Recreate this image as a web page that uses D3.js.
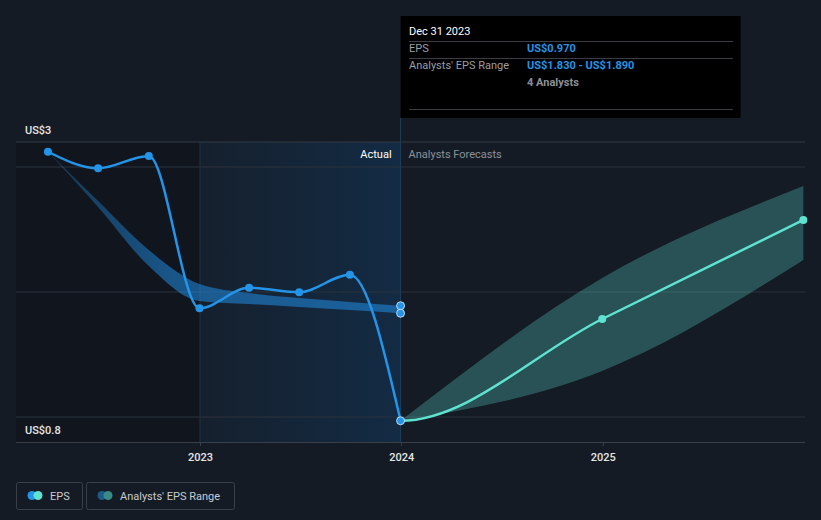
<!DOCTYPE html>
<html>
<head>
<meta charset="utf-8">
<script src="https://cdn.jsdelivr.net/npm/d3@7"></script>
<style>
  html, body { margin: 0; padding: 0; background: #151b24; }
  svg { display: block; font-family: Roboto, "Noto Sans", sans-serif; }
</style>
</head>
<body>
<svg id="chart" width="821" height="520"></svg>
<script>
// ---- data ----
const actualDates = ["2022-03-31","2022-06-30","2022-09-30","2022-12-31","2023-03-31","2023-06-30","2023-09-30","2023-12-31"];
const actualEPS   = [3.122, 2.990, 3.088, 1.870, 2.034, 1.998, 2.138, 0.970];

const pastRangeDates = ["2022-03-31","2022-06-30","2022-09-30","2022-12-31","2023-03-31","2023-06-30","2023-09-30","2023-12-31"];
const pastRangeHigh  = [3.122, 2.728, 2.336, 2.064, 1.992, 1.952, 1.920, 1.890];
const pastRangeLow   = [3.122, 2.680, 2.208, 1.928, 1.904, 1.880, 1.856, 1.830];

const forecastDates = ["2023-09-30","2023-12-31","2024-12-31","2025-12-31"];
const forecastEPS   = [2.138, 0.970, 1.784, 2.576];
const forecastHigh  = [null, 0.970, 2.112, 2.848];
const forecastLow   = [null, 0.970, 1.368, 2.256];

const xTickDates  = ["2023-01-01","2024-01-01","2025-01-01"];
const xTickLabels = ["2023","2024","2025"];
const yGridValues = [1, 2, 3];
const yLabelValues = [3.2, 0.8];
const yLabelTexts  = ["US$3", "US$0.8"];

const tooltipTitle = "Dec 31 2023";
const tooltipRows = [
  ["EPS", "US$0.970"],
  ["Analysts' EPS Range", "US$1.830 - US$1.890"]
];
const tooltipNote = "4 Analysts";
const legendItems = ["EPS", "Analysts' EPS Range"];

// ---- setup ----
const parse = d3.timeParse("%Y-%m-%d");
const svg = d3.select("#chart");
const L = 16, R = 805, T = 142, B = 442;
const x = d3.scaleTime().domain([new Date(2022,1,1), new Date(2026,0,3)]).range([L, R]);
const y = d3.scaleLinear().domain([0.8, 3.2]).range([B, T]);
const splitDate = parse("2023-12-31");
const shadeStart = parse("2023-01-01");

const defs = svg.append("defs");
const g1 = defs.append("linearGradient").attr("id","actualShade").attr("x1","0").attr("x2","1").attr("y1","0").attr("y2","0");
g1.append("stop").attr("offset","0").attr("stop-color","#15202d");
g1.append("stop").attr("offset","1").attr("stop-color","#132b44");
const g2 = defs.append("linearGradient").attr("id","pastBand").attr("x1","0").attr("x2","1").attr("y1","0").attr("y2","0");
g2.append("stop").attr("offset","0").attr("stop-color","#2196f3").attr("stop-opacity",0.25);
g2.append("stop").attr("offset","0.35").attr("stop-color","#2196f3").attr("stop-opacity",0.5);
g2.append("stop").attr("offset","1").attr("stop-color","#2196f3").attr("stop-opacity",0.5);
defs.append("clipPath").attr("id","futureClip").append("rect")
  .attr("x", x(splitDate)).attr("y", 0).attr("width", 821 - x(splitDate)).attr("height", 520);
defs.append("clipPath").attr("id","plotClip").append("rect")
  .attr("x", L).attr("y", 0).attr("width", R - L).attr("height", 520);

// backgrounds
svg.append("rect").attr("x", L).attr("y", T).attr("width", x(shadeStart) - L).attr("height", B - T).attr("fill", "#11161e");
svg.append("rect").attr("x", x(shadeStart)).attr("y", T).attr("width", x(splitDate) - x(shadeStart)).attr("height", B - T).attr("fill", "url(#actualShade)");

// gridlines
svg.append("g").selectAll("line").data(yGridValues).join("line")
  .attr("x1", L).attr("x2", R).attr("y1", d => y(d)).attr("y2", d => y(d))
  .attr("stroke", "#2c323c").attr("stroke-width", 1);
svg.append("line").attr("x1", L).attr("x2", R).attr("y1", y(3.2)).attr("y2", y(3.2)).attr("stroke", "#353b45");

// vertical markers
svg.append("line").attr("x1", x(shadeStart)).attr("x2", x(shadeStart)).attr("y1", T).attr("y2", B).attr("stroke", "#1d3348");
svg.append("line").attr("x1", x(splitDate)).attr("x2", x(splitDate)).attr("y1", 118).attr("y2", B).attr("stroke", "#1f3d5a");

// x axis
const xAxis = d3.axisBottom(x).tickValues(xTickDates.map(parse)).tickSize(4)
  .tickFormat((d, i) => xTickLabels[i]);
const ax = svg.append("g").attr("transform", `translate(0,${B})`).call(xAxis);
ax.select(".domain").attr("stroke", "#3a404a").attr("d", `M${L},0.5H${R}`);
ax.selectAll(".tick line").attr("stroke", "#3a404a");
ax.selectAll(".tick text").attr("fill", "#e6e6e6").attr("font-size", 11).attr("font-weight", 500)
  .attr("font-family", "Roboto, sans-serif").attr("dy", "1.05em");

// y labels
svg.append("g").selectAll("text").data(yLabelValues).join("text")
  .attr("x", 25).attr("y", d => y(d) - 8)
  .attr("fill", "#e6e6e6").attr("font-size", 11).attr("font-weight", 500)
  .text((d, i) => yLabelTexts[i]);

// Section labels
svg.append("text").attr("x", x(splitDate) - 9).attr("y", 158).attr("text-anchor", "end")
  .attr("fill", "#ffffff").attr("font-size", 11).text("Actual");
svg.append("text").attr("x", x(splitDate) + 8).attr("y", 158)
  .attr("fill", "#8c9199").attr("font-size", 11).text("Analysts Forecasts");

// past range band
const pastBand = pastRangeDates.map((d, i) => ({ d: parse(d), hi: pastRangeHigh[i], lo: pastRangeLow[i] }));
svg.append("path").datum(pastBand)
  .attr("d", d3.area().x(d => x(d.d)).y0(d => y(d.lo)).y1(d => y(d.hi)).curve(d3.curveMonotoneX))
  .attr("fill", "url(#pastBand)");

// forecast band
const fBand = forecastDates.map((d, i) => ({ d: parse(d), hi: forecastHigh[i], lo: forecastLow[i] })).filter(d => d.hi !== null);
svg.append("path").datum(fBand).attr("clip-path", "url(#plotClip)")
  .attr("d", d3.area().x(d => x(d.d)).y0(d => y(d.lo)).y1(d => y(d.hi)).curve(d3.curveMonotoneX))
  .attr("fill", "#58d5c9").attr("fill-opacity", 0.3);

// actual line
const actual = actualDates.map((d, i) => ({ d: parse(d), v: actualEPS[i] }));
svg.append("path").datum(actual)
  .attr("d", d3.line().x(d => x(d.d)).y(d => y(d.v)).curve(d3.curveMonotoneX))
  .attr("fill", "none").attr("stroke", "#2394e8").attr("stroke-width", 2.5);

// forecast line (clipped to future)
const fc = forecastDates.map((d, i) => ({ d: parse(d), v: forecastEPS[i] }));
svg.append("g").attr("clip-path", "url(#futureClip)").append("path").datum(fc)
  .attr("d", d3.line().x(d => x(d.d)).y(d => y(d.v)).curve(d3.curveMonotoneX))
  .attr("fill", "none").attr("stroke", "#5fe3d1").attr("stroke-width", 2.5);

// markers
svg.append("g").selectAll("circle").data(actual.slice(0, -1)).join("circle")
  .attr("cx", d => x(d.d)).attr("cy", d => y(d.v)).attr("r", 4).attr("fill", "#2394e8");
svg.append("g").selectAll("circle").data(fc.slice(2)).join("circle")
  .attr("cx", d => x(d.d)).attr("cy", d => y(d.v)).attr("r", 4).attr("fill", "#5fe3d1");
const last = pastBand[pastBand.length - 1];
svg.append("g").selectAll("circle").data([last.hi, last.lo, actualEPS[actualEPS.length - 1]]).join("circle")
  .attr("cx", x(splitDate)).attr("cy", d => y(d)).attr("r", 4)
  .attr("fill", "#2394e8").attr("stroke", "#e8f0f8").attr("stroke-width", 0.8);

// tooltip
const tt = svg.append("g");
tt.append("rect").attr("x", x(splitDate)).attr("y", 16).attr("width", 340).attr("height", 102).attr("fill", "#000000");
tt.append("text").attr("x", 409).attr("y", 35).attr("fill", "#ffffff").attr("font-size", 11).text(tooltipTitle);
[41, 58, 109].forEach(yy => tt.append("line").attr("x1", 409).attr("x2", 733).attr("y1", yy + 0.5).attr("y2", yy + 0.5).attr("stroke", "#3a3d42"));
tooltipRows.forEach((r, i) => {
  const yy = 52 + i * 17;
  tt.append("text").attr("x", 409).attr("y", yy).attr("fill", "#9a9ea5").attr("font-size", 11).text(r[0]);
  tt.append("text").attr("x", 527).attr("y", yy).attr("fill", "#2394e8").attr("font-size", 11).attr("font-weight", 700).text(r[1]);
});
tt.append("text").attr("x", 527).attr("y", 86).attr("fill", "#8c9096").attr("font-size", 11).attr("font-weight", 700).text(tooltipNote);

// legend
const lg = svg.append("g");
const boxes = [{ x: 16, w: 66, c1: "#2394e8", c2: "#5fe3d1" }, { x: 86, w: 148, c1: "#1d5a8a", c2: "#3a8a86" }];
boxes.forEach((b, i) => {
  lg.append("rect").attr("x", b.x + 0.5).attr("y", 482.5).attr("width", b.w).attr("height", 27).attr("rx", 2)
    .attr("fill", "none").attr("stroke", "#3a3f48");
  lg.append("circle").attr("cx", b.x + 16).attr("cy", 495.5).attr("r", 4.5).attr("fill", b.c1);
  lg.append("circle").attr("cx", b.x + 22).attr("cy", 495.5).attr("r", 4.5).attr("fill", b.c2);
  lg.append("text").attr("x", b.x + 34).attr("y", 499.5).attr("fill", "#c8ccd2").attr("font-size", 11).text(legendItems[i]);
});
</script>
</body>
</html>
